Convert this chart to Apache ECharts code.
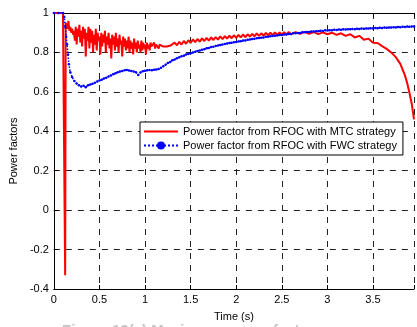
<!DOCTYPE html>
<html>
<head>
<meta charset="utf-8">
<script src="https://cdn.jsdelivr.net/npm/echarts@6/dist/echarts.min.js"></script>
<style>html,body{margin:0;padding:0;background:#fff}#c{width:417px;height:327px}</style>
</head>
<body>
<div id="c"></div>
<script>
var seriesNames = ['Power factor from RFOC with MTC strategy', 'Power factor from RFOC with FWC strategy'];
var xTicks = [0, 0.5, 1, 1.5, 2, 2.5, 3, 3.5];
var yTicks = [-0.4, -0.2, 0, 0.2, 0.4, 0.6, 0.8, 1];

var mtcTime = [0, 0.05, 0.10, 0.118, 0.124, 0.13,
 0.14,0.15,0.16,0.17,0.18,0.19,0.20,0.21,0.22,0.23,0.24,0.25,0.26,0.27,0.28,0.29,0.30,0.31,0.32,0.33,0.34,0.35,0.36,0.37,0.38,0.39,0.40,0.41,0.42,0.43,0.44,0.45,0.46,0.47,0.48,0.49,0.50,
 0.51,0.52,0.53,0.54,0.55,0.56,0.57,0.58,0.59,0.60,0.61,0.62,0.63,0.64,0.65,0.66,0.67,0.68,0.69,0.70,0.71,0.72,0.73,0.74,0.75,0.76,0.77,0.78,0.79,0.80,
 0.81,0.82,0.83,0.84,0.85,0.86,0.87,0.88,0.89,0.90,0.91,0.92,0.93,0.94,0.95,0.96,0.97,0.98,0.99,1.00,1.01,1.02,1.03,1.04,1.05,1.06,1.07,1.08,1.09,1.10,
 1.11,1.12,1.13,1.14,1.15,1.16,1.17,1.18,1.20,1.22,1.24,1.26,1.28,
 1.300,1.325,1.350,1.375,1.400,1.425,1.450,1.475,1.500,1.525,1.550,1.575,1.600,1.625,1.650,1.675,1.700,1.725,1.750,1.775,1.800,1.825,1.850,1.875,1.900,1.925,1.950,1.975,
 2.000,2.025,2.050,2.075,2.100,2.125,2.150,2.175,2.200,2.225,2.250,2.275,2.300,2.325,2.350,2.375,2.400,2.425,2.450,2.475,2.500,2.525,2.550,2.575,2.600,
 2.650,2.700,2.750,2.800,2.850,2.900,2.950,3.000,3.050,3.100,3.150,3.200,3.250,3.300,3.350,3.400,3.450,3.500,3.550,3.600,3.650,3.700,3.750,3.800,3.850,3.875,3.900,3.925,3.950];
var mtcPF = [1, 1, 1, 1, -0.33, 0.95,
 0.95,0.92,0.96,0.91,0.93,0.90,0.92,0.89,0.91,0.86,0.93,0.84,0.92,0.88,0.94,0.85,0.91,0.83,0.93,0.87,0.92,0.78,0.90,0.86,0.93,0.82,0.92,0.85,0.91,0.80,0.89,0.84,0.92,0.81,0.90,0.86,0.88,
 0.79,0.90,0.83,0.89,0.85,0.91,0.80,0.88,0.84,0.90,0.82,0.87,0.77,0.89,0.84,0.88,0.81,0.90,0.83,0.87,0.80,0.89,0.84,0.86,0.78,0.88,0.83,0.87,0.81,0.86,
 0.82,0.88,0.80,0.86,0.82,0.85,0.79,0.87,0.82,0.85,0.80,0.86,0.82,0.84,0.80,0.86,0.81,0.85,0.82,0.84,0.79,0.85,0.82,0.84,0.81,0.85,0.83,0.84,0.82,0.85,
 0.82,0.84,0.83,0.85,0.82,0.84,0.83,0.84,0.83,0.84,0.83,0.84,0.835,
 0.833,0.850,0.836,0.854,0.840,0.858,0.844,0.862,0.848,0.866,0.852,0.868,0.855,0.871,0.858,0.874,0.860,0.876,0.863,0.878,0.865,0.881,0.867,0.883,0.870,0.885,0.872,0.887,
 0.874,0.889,0.876,0.891,0.878,0.892,0.880,0.894,0.882,0.896,0.884,0.897,0.885,0.899,0.887,0.900,0.888,0.901,0.889,0.902,0.890,0.903,0.891,0.904,0.892,
 0.903,0.894,0.904,0.894,0.903,0.893,0.902,0.892,0.900,0.889,0.897,0.884,0.892,0.876,0.884,0.864,0.870,0.849,0.848,0.832,0.818,0.800,0.776,0.742,0.685,0.645,0.595,0.540,0.460];

var fwcTime = [0, 0.05, 0.10, 0.115, 0.125, 0.135, 0.145, 0.155, 0.165, 0.18, 0.20, 0.225, 0.25, 0.275,
 0.300,0.325,0.350,0.375,0.400,0.425,0.450,0.475,0.500,0.525,0.550,0.575,0.600,0.625,0.650,0.675,0.700,0.725,0.750,0.775,0.800,0.825,0.850,0.875,0.900,0.925,0.950,0.975,
 1.000,1.025,1.050,1.075,1.100,1.125,1.150,1.175,1.200,1.225,1.250,1.275,1.300,1.325,1.350,1.375,1.400,1.425,1.450,1.475,1.500,1.525,1.550,1.575,1.600,1.625,1.650,1.675,1.700,1.725,1.750,1.775,1.800,1.825,1.850,1.875,1.900,1.925,1.950,1.975,
 2.000,2.025,2.050,2.075,2.100,2.125,2.150,2.175,2.200,2.225,2.250,2.275,2.300,2.325,2.350,2.375,2.400,2.425,2.450,2.475,2.500,2.525,2.550,2.575,2.600,2.625,2.650,2.675,2.700,2.725,2.750,2.775,2.800,2.825,2.850,2.875,2.900,2.925,2.950,2.975,
 3.000,3.025,3.050,3.075,3.100,3.125,3.150,3.175,3.200,3.225,3.250,3.275,3.300,3.325,3.350,3.375,3.400,3.425,3.450,3.475,3.500,3.525,3.550,3.575,3.600,3.625,3.650,3.675,3.700,3.725,3.750,3.775,3.800,3.825,3.850,3.875,3.900,3.925,3.950];
var fwcPF = [1, 1, 1, 0.98, 0.93, 0.88, 0.84, 0.79, 0.74, 0.70, 0.675, 0.655, 0.642, 0.633,
 0.627,0.631,0.624,0.633,0.637,0.641,0.646,0.652,0.657,0.661,0.668,0.672,0.678,0.683,0.689,0.694,0.699,0.703,0.706,0.710,0.711,0.708,0.706,0.703,0.699,0.686,0.698,0.704,
 0.707,0.709,0.711,0.710,0.712,0.714,0.716,0.722,0.730,0.738,0.746,0.752,0.760,0.764,0.771,0.775,0.780,0.783,0.789,0.792,0.796,0.800,0.803,0.807,0.810,0.814,0.816,0.821,0.823,0.827,0.829,0.833,0.835,0.838,0.840,0.843,0.845,0.848,0.849,0.852,
 0.853,0.856,0.857,0.860,0.861,0.864,0.865,0.868,0.869,0.872,0.873,0.875,0.876,0.879,0.880,0.882,0.883,0.885,0.886,0.888,0.889,0.891,0.891,0.894,0.894,0.897,0.897,0.899,0.899,0.902,0.902,0.904,0.904,0.906,0.906,0.908,0.907,0.910,0.909,0.912,
 0.911,0.913,0.912,0.915,0.914,0.916,0.915,0.917,0.916,0.918,0.917,0.919,0.918,0.920,0.919,0.921,0.920,0.922,0.921,0.923,0.922,0.924,0.923,0.925,0.924,0.926,0.925,0.927,0.926,0.928,0.927,0.929,0.928,0.930,0.929,0.931,0.930,0.931,0.931];

function zip(a, b) { return a.map(function (t, i) { return [t, b[i]]; }); }

var chart = echarts.init(document.getElementById('c'), null, {renderer: 'canvas'});
var FONT = 'Liberation Sans, Arial, sans-serif';
var dashed = {show: true, lineStyle: {color: '#222', width: 1, type: [6, 6]}};
chart.setOption({
  animation: false,
  backgroundColor: '#fff',
  grid: {left: 53, right: 0, top: 13, bottom: 31, containLabel: false},
  legend: {
    orient: 'vertical', left: 140, top: 122,
    backgroundColor: '#fff', borderColor: '#000', borderWidth: 1,
    padding: [4, 6, 4, 3], itemGap: 3, itemWidth: 34, itemHeight: 10,
    textStyle: {fontFamily: FONT, fontSize: 11, color: '#000'},
    data: [
      {name: seriesNames[0], icon: 'path://M0,0H34V2H0Z', itemStyle: {color: '#ff0000'}},
      {name: seriesNames[1]}
    ]
  },
  xAxis: [{
    type: 'value', min: 0, max: 3.95, interval: 0.5,
    name: 'Time (s)', nameLocation: 'middle', nameGap: 22,
    nameTextStyle: {fontFamily: FONT, fontSize: 11, color: '#000'},
    axisLine: {show: true, onZero: false, lineStyle: {color: '#000', width: 1}},
    axisTick: {show: true, inside: true, length: 4, lineStyle: {color: '#000'}},
    axisLabel: {fontFamily: FONT, fontSize: 11, color: '#000', margin: 5,
      formatter: function (v) { return xTicks.indexOf(Math.round(v * 10) / 10) >= 0 ? String(Math.round(v * 10) / 10) : ''; }},
    splitLine: dashed
  }, {
    type: 'value', position: 'top', min: 0, max: 3.95, interval: 0.5,
    axisLine: {show: true, onZero: false, lineStyle: {color: '#000', width: 1}},
    axisTick: {show: true, inside: true, length: 4, lineStyle: {color: '#000'}},
    axisLabel: {show: false}, splitLine: {show: false}
  }],
  yAxis: {
    type: 'value', min: -0.4, max: 1, interval: 0.2,
    name: 'Power factors', nameLocation: 'middle', nameGap: 29, nameRotate: 90,
    nameTextStyle: {fontFamily: FONT, fontSize: 11, color: '#000'},
    axisLine: {show: true, onZero: false, lineStyle: {color: '#000', width: 1}},
    axisTick: {show: true, inside: true, length: 4, lineStyle: {color: '#000'}},
    axisLabel: {fontFamily: FONT, fontSize: 11, color: '#000', margin: 5,
      formatter: function (v) { return String(Math.round(v * 10) / 10); }},
    splitLine: dashed
  },
  series: [{
    name: seriesNames[0], type: 'line', data: zip(mtcTime, mtcPF),
    symbol: 'none', lineStyle: {color: '#ff0000', width: 2}, itemStyle: {color: '#ff0000'},
    z: 3
  }, {
    name: seriesNames[1], type: 'line', data: zip(fwcTime, fwcPF),
    symbol: 'circle', symbolSize: 2.5, showSymbol: true,
    lineStyle: {color: '#0000ff', width: 1.5, type: 'dotted'}, itemStyle: {color: '#0000ff'},
    z: 4
  }],
  graphic: [{
    type: 'text', left: 62, top: 323,
    style: {text: 'Figure 12(c) Maximum power factors', font: 'bold 15px Liberation Sans', fill: '#c4c4c4'}
  }]
});
</script>
</body>
</html>
